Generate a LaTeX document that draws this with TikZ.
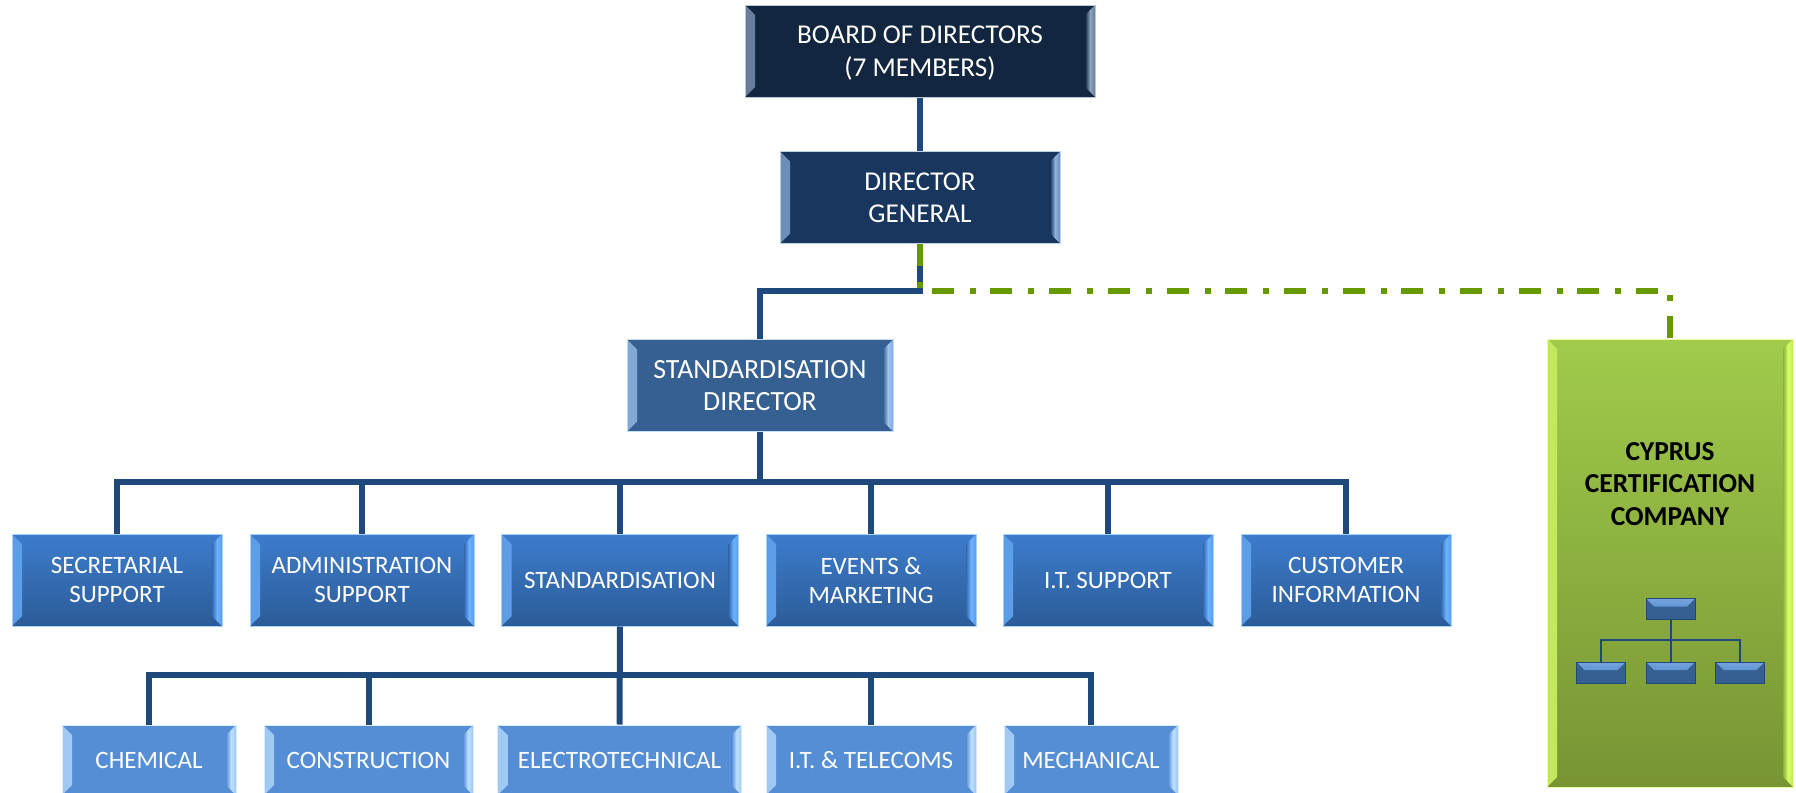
\documentclass[tikz,border=0pt]{standalone}
\usepackage{fontspec}
\setmainfont{Carlito}
\usetikzlibrary{calc}
\definecolor{boardblue}{HTML}{12263F}
\definecolor{boardedge}{HTML}{8BA3C0}
\definecolor{dgblue}{HTML}{18365E}
\definecolor{dgedge}{HTML}{90B2DC}
\definecolor{dirblue}{HTML}{366092}
\definecolor{diredge}{HTML}{A0C6F0}
\definecolor{unittop}{HTML}{3D7CCC}
\definecolor{unitbot}{HTML}{2C5C98}
\definecolor{unitmid}{HTML}{3469AE}
\definecolor{unitedge}{HTML}{6CB2FF}
\definecolor{deptblue}{HTML}{558ED5}
\definecolor{deptedge}{HTML}{BEE0FF}
\definecolor{linkblue}{HTML}{1F497D}
\definecolor{certgreen}{HTML}{669900}
\definecolor{certtop}{HTML}{A0CB4B}
\definecolor{certbot}{HTML}{789434}
\definecolor{certmid}{HTML}{8CB03F}
\definecolor{certedge}{HTML}{D8FF66}
\tikzset{
	bevel/.style 2 args={path picture={
		\shade[left color=#1!70!#2, right color=#2, middle color=#1] (path picture bounding box.south west) -- ++(5pt,5pt) -- ($(path picture bounding box.north west)+(5pt,-5pt)$) -- (path picture bounding box.north west) -- cycle;
		\shade[left color=#2, right color=#1!70!#2, middle color=#1] (path picture bounding box.south east) -- ++(-5pt,5pt) -- ($(path picture bounding box.north east)+(-5pt,-5pt)$) -- (path picture bounding box.north east) -- cycle;
	}},
	box/.style n args={4}{draw=#4!60!white, line width=0.5pt, minimum width=#1, minimum height=#2, inner sep=0pt, text=white, align=center, bevel={#4}{#3}, fill=#3},
	bigtext/.style={font=\fontsize{#1}{16.3}\selectfont},
	smalltext/.style={font=\fontsize{12.5}{14.5}\selectfont, text depth=-1pt},
	boardbox/.style={box={175pt}{46pt}{boardblue}{boardedge}, bigtext=13.6, text depth=0pt},
	dgbox/.style={box={140pt}{46pt}{dgblue}{dgedge}, bigtext=13.6, text depth=-1pt},
	dirbox/.style={box={133pt}{46pt}{dirblue}{diredge}, bigtext=13.9, text depth=-2pt},
	unitbox/.style={box={#1}{46pt}{unitmid}{unitedge}, top color=unittop, bottom color=unitbot, smalltext},
	deptbox/.style={box={#1}{35pt}{deptblue}{deptedge}, smalltext},
	minibox/.style={draw=linkblue, line width=0.5pt, minimum width=24.5pt, minimum height=10.5pt, inner sep=0pt, fill=dirblue, path picture={
		\fill[top color=unittop!70!white, bottom color=unittop] (path picture bounding box.north west) -- ++(4pt,-4pt) -- ($(path picture bounding box.north east)+(-4pt,-4pt)$) -- (path picture bounding box.north east) -- cycle;
	}},
	link/.style={draw=linkblue, line width=3pt},
	minilink/.style={draw=linkblue, line width=1pt},
	certlink/.style={draw=certgreen, line width=3pt, dash pattern=on 11pt off 8pt on 3pt off 7.35pt},
}
\begin{document}
\begin{tikzpicture}[x=0.5pt, y=-0.5pt]
	\clip (0,0) rectangle (1796,793);
	\fill[white] (0,0) rectangle (1796,793);

	\node[boardbox] (board) at (920,51){BOARD OF DIRECTORS\\(7 MEMBERS)};
	\node[dgbox] (dg) at (920,197.5){DIRECTOR\\GENERAL};
	\node[dirbox] (stddir) at (760,385.5){STANDARDISATION\\DIRECTOR};

	\node[unitbox={105pt}] (secretarial) at (117,580){SECRETARIAL\\SUPPORT};
	\node[unitbox={112pt}] (admin) at (362,580){ADMINISTRATION\\SUPPORT};
	\node[unitbox={118.5pt}] (standard) at (620,580){STANDARDISATION};
	\node[unitbox={105pt}] (events) at (871,580){EVENTS \&\\MARKETING};
	\node[unitbox={105pt}] (itsupport) at (1108,580){I.T. SUPPORT};
	\node[unitbox={105pt}] (customer) at (1346,580){CUSTOMER\\INFORMATION};

	\node[deptbox={87pt}] (chemical) at (149,760){CHEMICAL};
	\node[deptbox={104.5pt}] (construction) at (368.5,760){CONSTRUCTION};
	\node[deptbox={122pt}] (electro) at (619.5,760){ELECTROTECHNICAL};
	\node[deptbox={105pt}] (telecoms) at (871,760){I.T. \& TELECOMS};
	\node[deptbox={87pt}] (mechanical) at (1091,760){MECHANICAL};

	% green box on the right
	\node[box={123pt}{224pt}{certmid}{certedge}, top color=certtop, bottom color=certbot] (cert) at (1670,563){};
	\node[font=\fontsize{13.7}{16.2}\selectfont\bfseries, align=center, inner sep=0pt] (certname) at (1670,484){CYPRUS\\CERTIFICATION\\COMPANY};
	\node[minibox] (minitop) at (1670.5,609){};
	\node[minibox] (minia) at (1601,672.5){};
	\node[minibox] (minib) at (1670.5,672.5){};
	\node[minibox] (minic) at (1740,672.5){};
	\coordinate (minibus) at (1670.5,640);
	\draw[minilink] (minitop.south) -- (minib.north);
	\draw[minilink] (minia.north) |- (minibus);
	\draw[minilink] (minic.north) |- (minibus);

	% top of the chart
	\coordinate (dgbus) at (920,291);
	\coordinate (busa) at (760,482);
	\coordinate (busb) at (620,675);
	\draw[link] (board.south) -- (dg.north);
	\draw[link] (dg.south) -- (dgbus) -| (stddir.north);
	\draw[link] (stddir.south) -- (busa);
	\draw[link] (secretarial.north) |- (busa);
	\draw[link] (admin.north) |- (busa);
	\draw[link] (standard.north) |- (busa);
	\draw[link] (events.north) |- (busa);
	\draw[link] (itsupport.north) |- (busa);
	\draw[link] (customer.north) |- (busa);

	\draw[link] (standard.south) -- (electro.north);
	\draw[link] (chemical.north) |- (busb);
	\draw[link] (construction.north) |- (busb);
	\draw[link] (telecoms.north) |- (busb);
	\draw[link] (mechanical.north) |- (busb);

	\draw[certlink] (dg.south) -- (dgbus) -| (cert.north);
\end{tikzpicture}
\end{document}
